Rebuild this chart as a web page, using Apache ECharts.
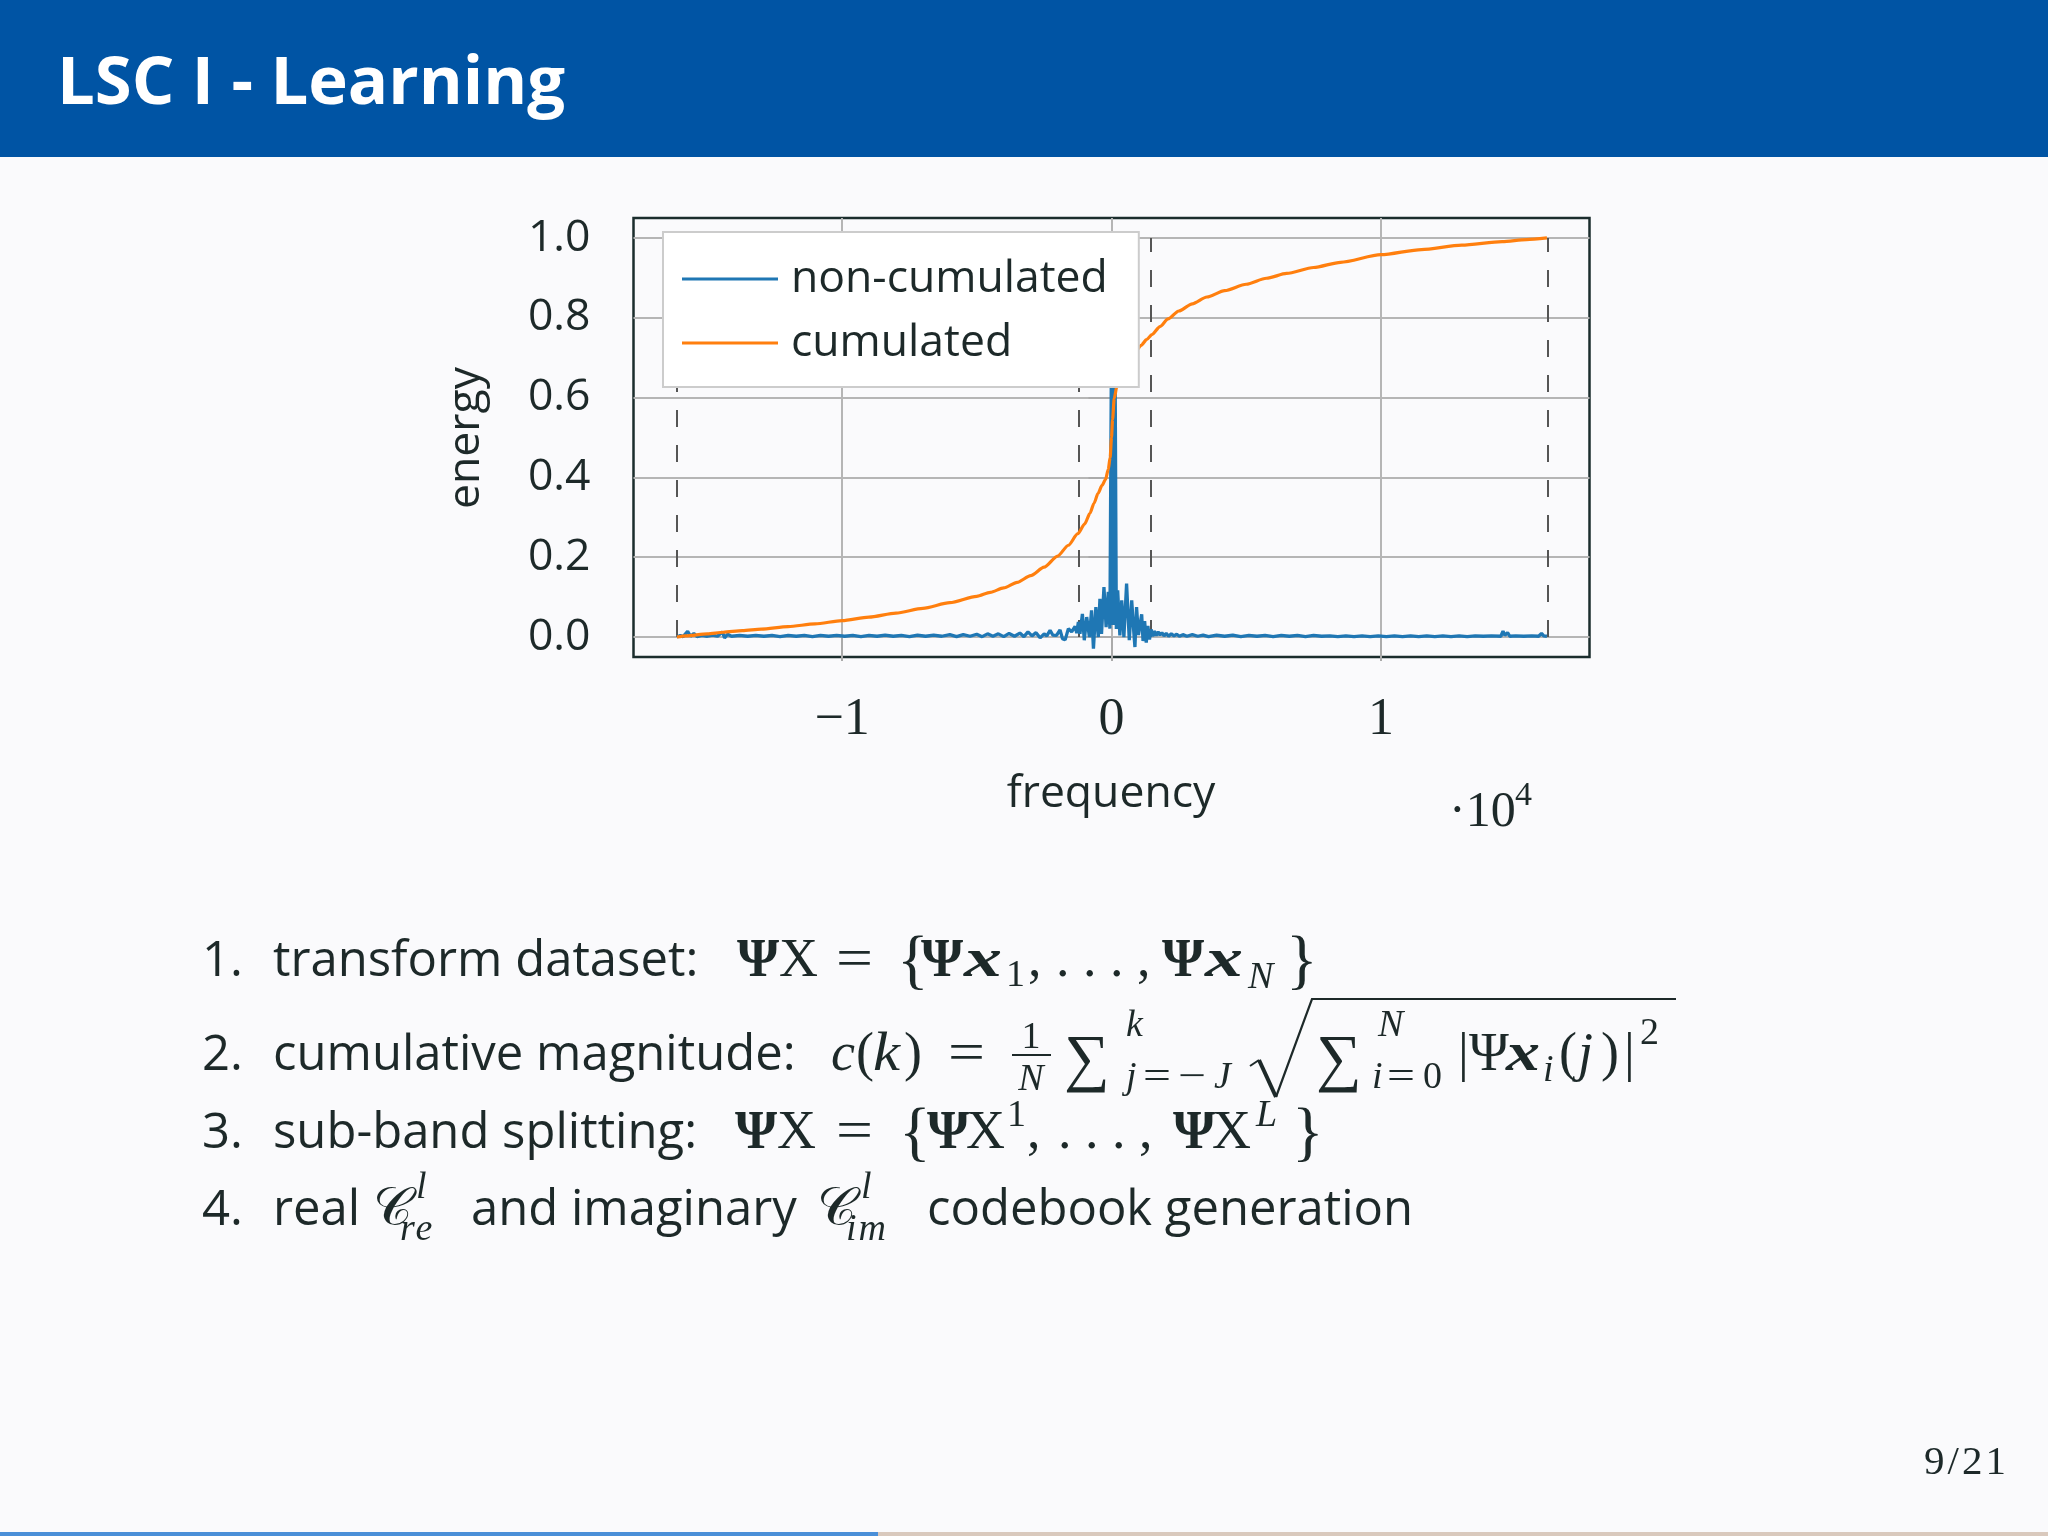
<!DOCTYPE html>
<html><head><meta charset="utf-8">
<script src="https://cdn.jsdelivr.net/npm/echarts@6/dist/echarts.min.js"></script>
<style>
html,body{margin:0;padding:0;width:2048px;height:1536px;overflow:hidden;background:#fafafc}
#chart{position:absolute;left:0;top:0;width:2048px;height:1536px}
#overlay{position:absolute;left:0;top:0;pointer-events:none}
</style></head><body>
<div id="chart"></div>
<svg id="overlay" width="2048" height="1536" xmlns="http://www.w3.org/2000/svg">
<style>
.s{font-family:'Open Sans';font-size:49px;fill:#1d2929}
.m{font-family:'Liberation Serif';font-size:54px;fill:#1d2929}
.i{font-style:italic}
.b{font-weight:bold}
.sm{font-size:38px}
.br{font-size:66px}
.sig{font-size:64px}
</style>
<rect x="0" y="0" width="2048" height="157" fill="#0054a4"/>
<text x="57" y="104" font-family="Open Sans" font-weight="700" font-size="67" fill="#ffffff">LSC I - Learning</text>

<!-- line 1 -->
<text class="s" x="202" y="976">1.</text>
<text class="s" x="273" y="976">transform dataset:</text>
<text class="m" x="737" y="976"><tspan class="b">Ψ</tspan>X</text>
<text class="m" x="836" y="976" textLength="37" lengthAdjust="spacingAndGlyphs">=</text>
<text class="m br" x="897" y="981">{</text>
<text class="m b" x="921" y="976">Ψ</text>
<text class="m b i" x="964" y="976" textLength="38" lengthAdjust="spacingAndGlyphs">x</text>
<text class="m sm" x="1006" y="986">1</text>
<text class="m" x="1028" y="976">,</text>
<text class="m" x="1056" y="976">. . . ,</text>
<text class="m b" x="1162" y="976">Ψ</text>
<text class="m b i" x="1205" y="976" textLength="38" lengthAdjust="spacingAndGlyphs">x</text>
<text class="m sm i" x="1248" y="988">N</text>
<text class="m br" x="1286" y="981">}</text>

<!-- line 2 -->
<text class="s" x="202" y="1070">2.</text>
<text class="s" x="273" y="1070">cumulative magnitude:</text>
<text class="m i" x="831" y="1070">c</text>
<text class="m" x="856" y="1070">(</text>
<text class="m i" x="873" y="1070" textLength="27" lengthAdjust="spacingAndGlyphs">k</text>
<text class="m" x="904" y="1070">)</text>
<text class="m" x="948" y="1070" textLength="37" lengthAdjust="spacingAndGlyphs">=</text>
<text class="m sm" x="1031" y="1048" text-anchor="middle">1</text>
<line x1="1012" y1="1055" x2="1051" y2="1055" stroke="#1d2929" stroke-width="2"/>
<text class="m sm i" x="1031" y="1090" text-anchor="middle">N</text>
<text class="m sig" x="1064" y="1079">∑</text>
<text class="m sm i" x="1126" y="1036">k</text>
<text class="m sm i" x="1126" y="1088">j</text>
<text class="m sm" x="1143" y="1088" textLength="28" lengthAdjust="spacingAndGlyphs">=</text>
<text class="m sm" x="1178" y="1088" textLength="28" lengthAdjust="spacingAndGlyphs">−</text>
<text class="m sm i" x="1214" y="1088">J</text>
<path d="M1250,1066 L1259,1060" stroke="#1d2929" stroke-width="2" fill="none"/>
<path d="M1259,1060 L1276,1097" stroke="#1d2929" stroke-width="4" fill="none"/>
<path d="M1276,1097 L1312,999 L1676,999" stroke="#1d2929" stroke-width="2.2" fill="none"/>
<text class="m sig" x="1316" y="1079">∑</text>
<text class="m sm i" x="1378" y="1036">N</text>
<text class="m sm i" x="1372" y="1088">i</text>
<text class="m sm" x="1387" y="1088" textLength="28" lengthAdjust="spacingAndGlyphs">=</text>
<text class="m sm" x="1423" y="1088">0</text>
<text class="m" x="1458" y="1070">|</text>
<text class="m" x="1469" y="1070">Ψ</text>
<text class="m b i" x="1506" y="1070" textLength="34" lengthAdjust="spacingAndGlyphs">x</text>
<text class="m sm i" x="1543" y="1081">i</text>
<text class="m" x="1559" y="1070">(</text>
<text class="m i" x="1578" y="1070">j</text>
<text class="m" x="1601" y="1070">)</text>
<text class="m" x="1624" y="1070">|</text>
<text class="m sm" x="1640" y="1044">2</text>

<!-- line 3 -->
<text class="s" x="202" y="1148">3.</text>
<text class="s" x="273" y="1148">sub-band splitting:</text>
<text class="m" x="735" y="1148"><tspan class="b">Ψ</tspan>X</text>
<text class="m" x="836" y="1148" textLength="37" lengthAdjust="spacingAndGlyphs">=</text>
<text class="m br" x="899" y="1153">{</text>
<text class="m b" x="927" y="1148">Ψ</text>
<text class="m" x="966" y="1148">X</text>
<text class="m sm" x="1007" y="1126">1</text>
<text class="m" x="1027" y="1148">,</text>
<text class="m" x="1058" y="1148">. . . ,</text>
<text class="m b" x="1173" y="1148">Ψ</text>
<text class="m" x="1212" y="1148">X</text>
<text class="m sm i" x="1256" y="1126">L</text>
<text class="m br" x="1292" y="1153">}</text>

<!-- line 4 -->
<text class="s" x="202" y="1225">4.</text>
<text class="s" x="273" y="1225">real</text>
<text class="m" x="373" y="1225" font-size="56">𝒞</text>
<text class="m sm i" x="416" y="1198">l</text>
<text class="m sm i" x="400" y="1240" letter-spacing="2">re</text>
<text class="s" x="471" y="1225">and imaginary</text>
<text class="m" x="817" y="1225" font-size="56">𝒞</text>
<text class="m sm i" x="861" y="1198">l</text>
<text class="m sm i" x="846" y="1240" letter-spacing="2">im</text>
<text class="s" x="927" y="1225">codebook generation</text>

<text x="2009" y="1474" text-anchor="end" font-family="Liberation Serif" font-size="41" letter-spacing="3" fill="#1d2929">9/21</text>
<rect x="0" y="1532" width="878" height="4" fill="#4a8fd8"/>
<rect x="878" y="1532" width="1170" height="4" fill="#d9c9bd"/>
</svg>
<script>
// frequency in units of 10^4, energy values
const nonCumulated = [
[-1.613,0.000],[-1.600,0.004],[-1.590,0.001],[-1.573,0.014],[-1.562,0.002],[-1.550,0.009],[-1.538,0.001],[-1.520,0.004],
[-1.500,0.002],[-1.480,0.005],[-1.462,0.002],[-1.444,0.013],[-1.436,-0.002],[-1.425,0.007],[-1.410,0.002],[-1.380,0.004],
[-1.350,0.002],[-1.320,0.004],[-1.290,0.002],[-1.260,0.004],[-1.230,0.001],[-1.200,0.004],[-1.170,0.002],[-1.140,0.004],
[-1.110,0.001],[-1.080,0.004],[-1.050,0.002],[-1.020,0.004],[-0.990,0.002],[-0.960,0.004],[-0.930,0.001],[-0.900,0.004],
[-0.870,0.002],[-0.840,0.005],[-0.810,0.002],[-0.780,0.004],[-0.750,0.001],[-0.720,0.005],[-0.690,0.002],[-0.660,0.005],
[-0.630,0.002],[-0.600,0.006],[-0.575,0.001],[-0.550,0.006],[-0.525,0.002],[-0.500,0.007],[-0.480,0.001],[-0.460,0.008],
[-0.440,0.002],[-0.420,0.008],[-0.400,0.001],[-0.380,0.009],[-0.360,0.002],[-0.340,0.010],[-0.325,0.001],[-0.310,0.013],
[-0.295,0.003],[-0.280,0.011],[-0.265,-0.002],
[-0.250,0.008],[-0.240,0.003],[-0.228,0.017],[-0.218,0.005],[-0.204,0.004],[-0.191,0.018],[-0.182,-0.004],[-0.172,-0.007],
[-0.160,0.021],[-0.148,0.013],[-0.135,0.027],[-0.129,0.010],[-0.123,0.038],[-0.117,0.008],[-0.108,0.058],[-0.101,-0.008],
[-0.092,0.050],[-0.082,0.000],[-0.074,0.067],[-0.067,-0.029],[-0.058,0.075],[-0.049,0.000],[-0.043,0.096],[-0.037,0.008],
[-0.028,0.125],[-0.020,0.025],[-0.012,0.113],[-0.006,0.021],[0.000,0.745],[0.006,0.030],[0.013,0.730],[0.018,0.020],
[0.023,0.117],[0.031,0.004],[0.038,0.092],[0.046,0.000],[0.056,0.134],[0.066,-0.008],[0.075,0.092],[0.083,0.010],
[0.087,-0.025],[0.093,0.075],[0.100,0.005],[0.106,0.008],[0.112,0.057],[0.117,-0.010],[0.123,0.040],[0.129,-0.014],
[0.135,0.028],[0.141,-0.006],[0.147,0.019],[0.153,0.002],[0.158,0.015],[0.166,0.004],[0.173,0.013],[0.180,0.005],
[0.187,0.011],[0.195,0.003],[0.203,0.009],[0.212,0.002],[0.222,0.008],[0.232,0.003],[0.242,0.007],[0.252,0.002],
[0.265,0.006],[0.280,0.002],[0.300,0.006],[0.320,0.002],[0.340,0.005],[0.360,0.001],[0.390,0.005],[0.420,0.002],
[0.450,0.005],[0.480,0.001],[0.510,0.004],[0.540,0.002],[0.570,0.004],[0.600,0.001],[0.630,0.004],[0.660,0.002],
[0.690,0.004],[0.720,0.001],[0.750,0.004],[0.780,0.002],[0.810,0.003],[0.840,0.001],[0.870,0.003],[0.900,0.001],
[0.930,0.003],[0.960,0.001],[0.990,0.003],[1.020,0.001],[1.050,0.003],[1.080,0.001],[1.110,0.003],[1.140,0.001],
[1.170,0.003],[1.200,0.001],[1.230,0.003],[1.260,0.001],[1.290,0.003],[1.320,0.001],[1.350,0.003],[1.380,0.002],
[1.410,0.003],[1.445,0.002],[1.453,0.015],[1.460,0.004],[1.470,0.011],[1.478,0.002],[1.500,0.003],[1.530,0.002],
[1.560,0.003],[1.585,0.002],[1.596,0.009],[1.604,0.003],[1.616,0.002]
];
const cumulated = [
[-1.613,0.000],[-1.580,0.003],[-1.500,0.008],[-1.441,0.012],[-1.370,0.016],[-1.300,0.020],[-1.200,0.026],[-1.100,0.033],
[-1.000,0.041],[-0.900,0.050],[-0.800,0.060],[-0.700,0.072],[-0.600,0.086],[-0.500,0.102],[-0.450,0.112],[-0.400,0.123],
[-0.350,0.137],[-0.300,0.154],[-0.250,0.175],[-0.200,0.203],[-0.160,0.230],[-0.125,0.259],[-0.100,0.283],[-0.080,0.310],
[-0.065,0.335],[-0.050,0.360],[-0.035,0.380],[-0.022,0.395],[-0.012,0.420],[-0.005,0.450],[0.000,0.500],[0.004,0.545],
[0.010,0.598],[0.020,0.628],[0.035,0.655],[0.050,0.674],[0.070,0.698],[0.090,0.716],[0.110,0.731],[0.130,0.745],
[0.150,0.758],[0.180,0.778],[0.210,0.797],[0.250,0.817],[0.300,0.835],[0.354,0.852],[0.420,0.868],[0.500,0.884],
[0.575,0.899],[0.650,0.911],[0.750,0.926],[0.850,0.939],[1.000,0.958],[1.150,0.971],[1.300,0.982],[1.450,0.991],
[1.540,0.996],[1.616,1.000]
];
const bandEdges = [-1.613, -0.121, 0.147, 1.618];
const xTicks = [-1, 0, 1];
const yTicks = [0, 0.2, 0.4, 0.6, 0.8, 1.0];
const seriesNames = ['non-cumulated', 'cumulated'];
const seriesColors = ['#1f77b4', '#ff7f0e'];

const textColor = '#1d2929';
const gridColor = '#b5b5b5';
const chart = echarts.init(document.getElementById('chart'));
chart.setOption({
  animation: false,
  backgroundColor: 'transparent',
  grid: {left: 633.5, top: 218, width: 956, height: 439, show: true,
         borderColor: '#1b2d2d', borderWidth: 2.5, containLabel: false},
  xAxis: {type: 'value', min: -1.774, max: 1.774,
    axisLine: {show: false},
    axisTick: {show: true, customValues: xTicks, length: 24, lineStyle: {color: '#aaaaaa', width: 2}},
    axisLabel: {customValues: xTicks, margin: 37, fontFamily: 'Liberation Serif', fontSize: 52, color: textColor,
      formatter: v => v < 0 ? '\u2212' + Math.abs(v) : String(v)},
    splitLine: {show: true, lineStyle: {color: gridColor, width: 2}}},
  yAxis: {type: 'value', min: -0.05, max: 1.05,
    axisLine: {show: false},
    axisTick: {show: true, customValues: yTicks, length: 23, lineStyle: {color: '#aaaaaa', width: 2}},
    axisLabel: {customValues: yTicks, margin: 43, fontFamily: 'Open Sans', fontSize: 44.5, color: textColor,
      formatter: v => v.toFixed(1)},
    splitLine: {show: true, lineStyle: {color: gridColor, width: 2}}},
  legend: {orient: 'vertical', left: 663, top: 232, z: 20, data: seriesNames,
    icon: 'rect', itemWidth: 96, itemHeight: 3, itemGap: 18,
    padding: [24, 31, 21, 19], backgroundColor: '#ffffff', borderColor: '#cccccc', borderWidth: 2,
    textStyle: {fontFamily: 'Open Sans', fontSize: 44.5, color: textColor, lineHeight: 46, padding: [0, 0, 0, 8]}},
  graphic: [
    {type: 'text', x: 1111, y: 794, style: {text: 'frequency', fontFamily: 'Open Sans', fontSize: 44.5, fill: textColor, align: 'center', verticalAlign: 'middle'}},
    {type: 'text', x: 466, y: 438, rotation: Math.PI / 2, style: {text: 'energy', fontFamily: 'Open Sans', fontSize: 44.5, fill: textColor, align: 'center', verticalAlign: 'middle'}},
    {type: 'text', x: 1449, y: 813, style: {text: '\u00b710', fontFamily: 'Liberation Serif', fontSize: 50, fill: textColor, align: 'left', verticalAlign: 'middle'}},
    {type: 'text', x: 1515, y: 796, style: {text: '4', fontFamily: 'Liberation Serif', fontSize: 34, fill: textColor, align: 'left', verticalAlign: 'middle'}}
  ],
  series: [
    {name: seriesNames[0], type: 'line', data: nonCumulated, symbol: 'none', color: seriesColors[0],
     itemStyle: {color: seriesColors[0]}, lineStyle: {width: 3.3, color: seriesColors[0]}, z: 2,
     markLine: {silent: true, symbol: ['none', 'none'], label: {show: false}, z: 1,
       lineStyle: {color: '#555555', type: [17, 18], width: 2},
       data: bandEdges.map(x => [{coord: [x, 0]}, {coord: [x, 1]}])}},
    {name: seriesNames[1], type: 'line', data: cumulated, symbol: 'none', color: seriesColors[1],
     smooth: 0.25, smoothMonotone: 'x',
     itemStyle: {color: seriesColors[1]}, lineStyle: {width: 3.2, color: seriesColors[1]}, z: 3}
  ]
});
</script>
</body></html>
